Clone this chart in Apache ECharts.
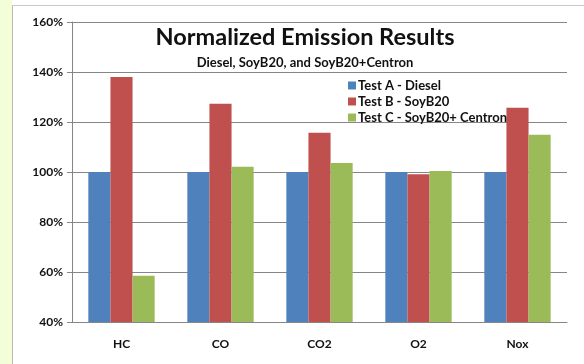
<!DOCTYPE html>
<html><head><meta charset="utf-8">
<script src="https://cdn.jsdelivr.net/npm/echarts@6/dist/echarts.min.js"></script>
<style>html,body{margin:0;padding:0;background:#fff}#c{width:584px;height:364px}</style>
</head><body><div id="c"></div>
<script>
const categories = ['HC', 'CO', 'CO2', 'O2', 'Nox'];
const testA = [100, 100, 100, 100, 100];
const testB = [138, 127.3, 115.7, 99.1, 125.7];
const testC = [58.5, 102.1, 103.6, 100.4, 114.9];
const seriesNames = ['Test A - Diesel', 'Test B - SoyB20', 'Test C - SoyB20+ Centron'];
const colors = ['#4f81bd', '#c0504d', '#9bbb59'];
const FONT = 'Lato';

const chart = echarts.init(document.getElementById('c'));
chart.setOption({
  animation: false,
  backgroundColor: '#fff',
  textStyle: { fontFamily: FONT },
  graphic: [
    { type: 'rect', shape: { x: 0, y: 0, width: 12, height: 364 }, style: { fill: '#f3fdd8' }, z: -10 },
    { type: 'line', shape: { x1: 12.5, y1: 5, x2: 12.5, y2: 364 }, style: { stroke: '#b8b8b8', lineWidth: 1 } },
    { type: 'line', shape: { x1: 12, y1: 5.5, x2: 584, y2: 5.5 }, style: { stroke: '#c8c8c8', lineWidth: 1 } }
  ],
  title: {
    text: 'Normalized Emission Results',
    subtext: 'Diesel, SoyB20, and SoyB20+Centron',
    left: 300, textAlign: 'center', top: 20, itemGap: 7,
    textStyle: { fontFamily: FONT, fontSize: 23.5, fontWeight: 'bold', color: '#111' },
    subtextStyle: { fontFamily: FONT, fontSize: 13, fontWeight: 'bold', color: '#111' }
  },
  legend: {
    orient: 'vertical', left: 343, top: 74,
    itemWidth: 8, itemHeight: 8, itemGap: 3, icon: 'rect',
    textStyle: { fontFamily: FONT, fontSize: 13, fontWeight: 'bold', color: '#111', padding: [0, 0, 0, -3] },
    data: seriesNames
  },
  grid: { left: 72, right: 17, top: 22, bottom: 42 },
  xAxis: {
    type: 'category', data: categories,
    axisLine: { lineStyle: { color: '#868686' } },
    axisTick: { lineStyle: { color: '#868686' }, length: 5 },
    axisLabel: { fontFamily: FONT, fontSize: 12, fontWeight: 'bold', color: '#111', margin: 16 }
  },
  yAxis: {
    type: 'value', min: 40, max: 160, interval: 20,
    axisLine: { show: true, lineStyle: { color: '#868686' } },
    axisTick: { show: true, lineStyle: { color: '#868686' }, length: 5 },
    splitLine: { lineStyle: { color: '#868686' } },
    axisLabel: { formatter: '{value}%', fontFamily: FONT, fontSize: 12, fontWeight: 'bold', color: '#111', margin: 9 }
  },
  series: [testA, testB, testC].map((d, i) => ({
    name: seriesNames[i], type: 'bar', data: d,
    itemStyle: { color: colors[i] },
    barGap: '0%', barCategoryGap: '33%'
  }))
});
</script></body></html>
